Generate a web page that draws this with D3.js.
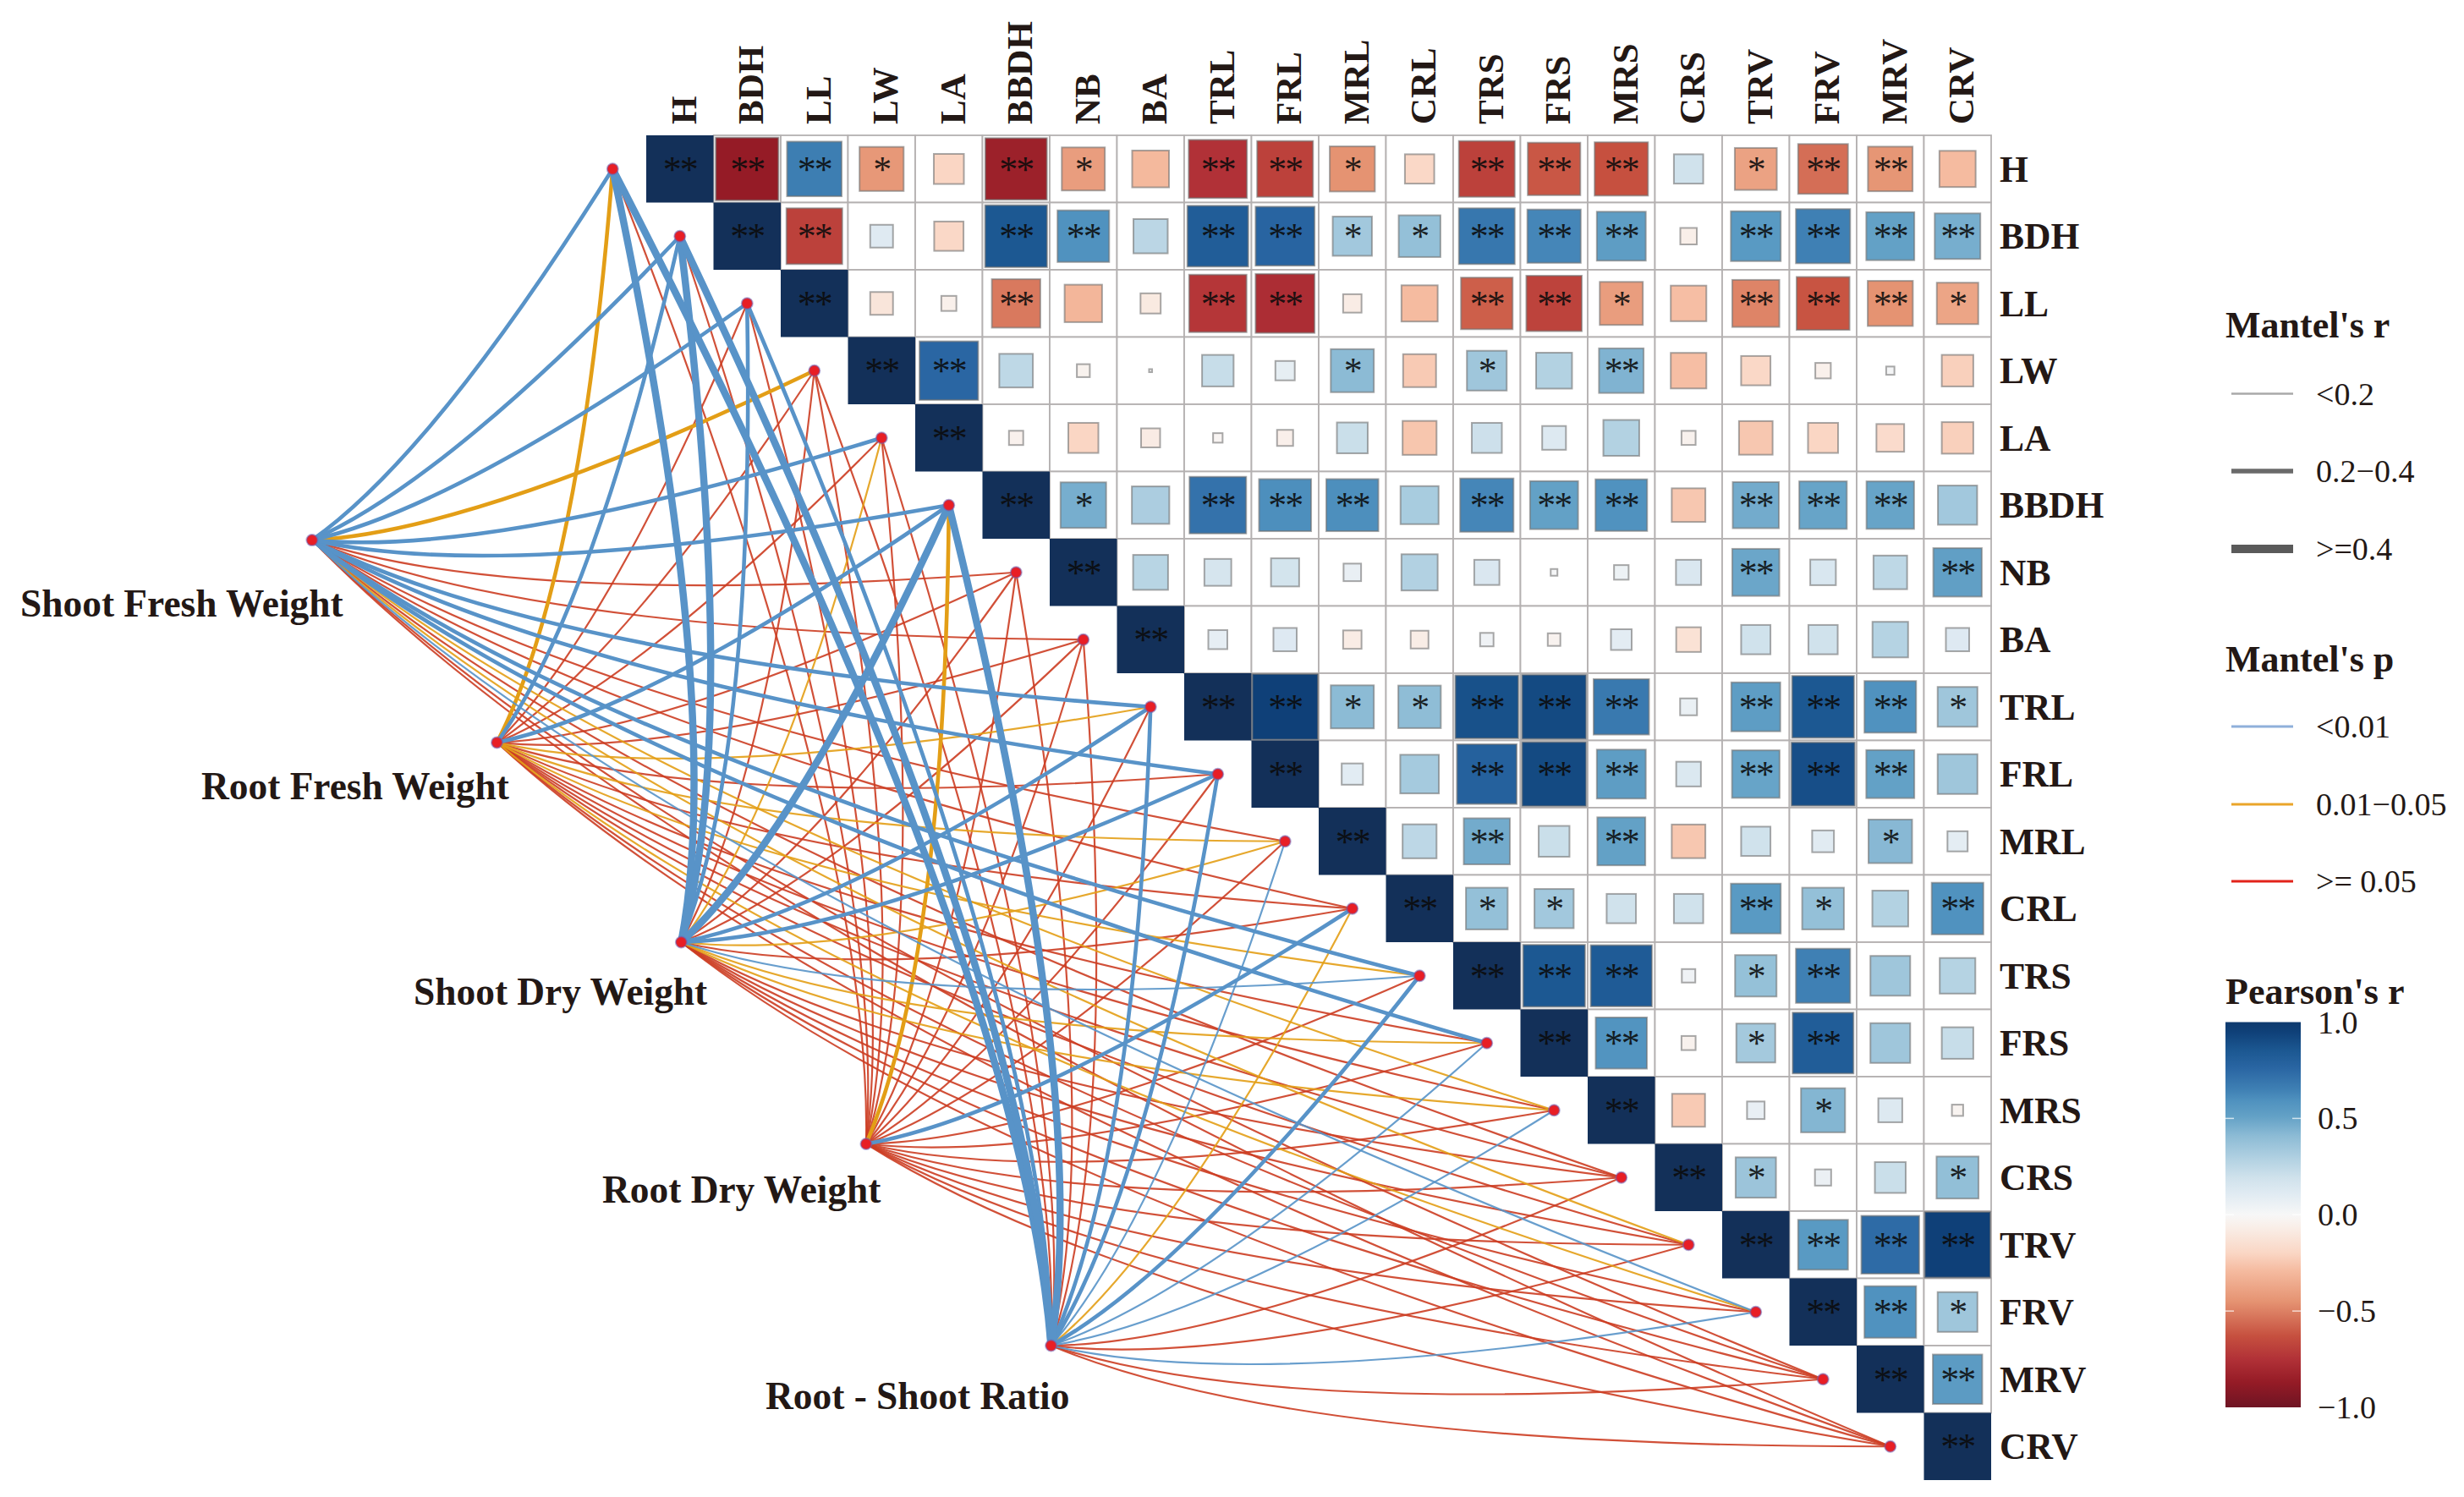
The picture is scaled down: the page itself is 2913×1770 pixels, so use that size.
<!DOCTYPE html>
<html>
<head>
<meta charset="utf-8">
<script src="https://cdn.jsdelivr.net/npm/d3@7"></script>
<style>
html,body{margin:0;padding:0;background:#fff;}
svg{display:block;}
text{font-family:"Liberation Serif",serif;fill:#231815;}
</style>
</head>
<body>
<svg id="chart" width="2913" height="1770"></svg>
<script>
const variables = ["H","BDH","LL","LW","LA","BBDH","NB","BA","TRL","FRL","MRL","CRL","TRS","FRS","MRS","CRS","TRV","FRV","MRV","CRV"];

// Pearson's r, upper triangle: each row starts at the cell right of the diagonal
const r_H    = [-.87,.66,-.43,-.20,-.84,-.41,-.30,-.75,-.69,-.45,-.19,-.69,-.61,-.63,.19,-.39,-.55,-.44,-.29];
const r_BDH  = [-.69,.115,-.19,.85,.59,.26,.82,.77,.34,.385,.69,.63,.53,-.06,.55,.65,.51,.46];
const r_LL   = [-.115,-.05,-.52,-.31,-.09,-.73,-.77,-.075,-.29,-.59,-.68,-.41,-.28,-.49,-.62,-.45,-.38];
const r_LW   = [.76,.25,-.037,.002,.22,.083,.41,-.24,.35,.285,.44,-.28,-.19,-.053,.015,-.22];
const r_LA   = [-.045,-.2,-.08,-.02,-.057,.21,-.255,.2,.125,.285,-.044,-.25,-.2,-.17,-.22];
const r_BBDH = [.46,.31,.71,.6,.6,.32,.63,.51,.59,-.25,.47,.5,.5,.34];
const r_NB   = [.27,.16,.175,.068,.29,.14,.01,.047,.14,.49,.145,.25,.52];
const r_BA   = [.08,.12,-.075,-.07,.04,-.035,.095,-.135,.19,.19,.28,.12];
const r_TRL  = [.95,.41,.4,.88,.91,.68,.063,.53,.85,.59,.35];
const r_FRL  = [.1,.33,.79,.91,.53,.135,.5,.89,.51,.35];
const r_MRL  = [.255,.47,.21,.51,-.25,.19,.105,.42,.09];
const r_CRL  = [.385,.34,.19,.19,.55,.385,.285,.59];
const r_TRS  = [.85,.83,.04,.38,.65,.35,.28];
const r_FRS  = [.58,-.044,.335,.82,.35,.22];
const r_MRS  = [-.24,.068,.43,.127,-.028];
const r_CRS  = [.36,.058,.21,.39];
const r_TRV  = [.55,.74,.95];
const r_FRV  = [.59,.35];
const r_MRV  = [.54];
const corrRows = [r_H,r_BDH,r_LL,r_LW,r_LA,r_BBDH,r_NB,r_BA,r_TRL,r_FRL,r_MRL,r_CRL,r_TRS,r_FRS,r_MRS,r_CRS,r_TRV,r_FRV,r_MRV,[]];

// Significance stars for the same cells
const s_H    = [2,2,1,0,2,1,0,2,2,1,0,2,2,2,0,1,2,2,0];
const s_BDH  = [2,0,0,2,2,0,2,2,1,1,2,2,2,0,2,2,2,2];
const s_LL   = [0,0,2,0,0,2,2,0,0,2,2,1,0,2,2,2,1];
const s_LW   = [2,0,0,0,0,0,1,0,1,0,2,0,0,0,0,0];
const s_LA   = [0,0,0,0,0,0,0,0,0,0,0,0,0,0,0];
const s_BBDH = [1,0,2,2,2,0,2,2,2,0,2,2,2,0];
const s_NB   = [0,0,0,0,0,0,0,0,0,2,0,0,2];
const s_BA   = [0,0,0,0,0,0,0,0,0,0,0,0];
const s_TRL  = [2,1,1,2,2,2,0,2,2,2,1];
const s_FRL  = [0,0,2,2,2,0,2,2,2,0];
const s_MRL  = [0,2,0,2,0,0,0,1,0];
const s_CRL  = [1,1,0,0,2,1,0,2];
const s_TRS  = [2,2,0,1,2,0,0];
const s_FRS  = [2,0,1,2,0,0];
const s_MRS  = [0,0,1,0,0];
const s_CRS  = [1,0,0,1];
const s_TRV  = [2,2,2];
const s_FRV  = [2,1];
const s_MRV  = [2];
const starRows = [s_H,s_BDH,s_LL,s_LW,s_LA,s_BBDH,s_NB,s_BA,s_TRL,s_FRL,s_MRL,s_CRL,s_TRS,s_FRS,s_MRS,s_CRS,s_TRV,s_FRV,s_MRV,[]];

// Mantel classes per source, in the order of `variables`
// p class: 0 <0.01, 1 0.01-0.05, 2 >=0.05 ; r class: 0 <0.2, 1 0.2-0.4, 2 >=0.4
const sources = ["Shoot Fresh Weight","Root Fresh Weight","Shoot Dry Weight","Root Dry Weight","Root - Shoot Ratio"];
const pSFW = [0,0,0,1,0,0,2,2,0,0,2,2,0,0,1,2,1,0,2,2];
const rSFW = [1,1,1,1,1,1,0,0,1,1,0,0,1,1,0,0,0,0,0,0];
const pRFW = [1,0,2,2,2,0,2,2,1,2,1,2,1,2,2,2,2,1,2,2];
const rRFW = [1,1,0,0,0,1,0,0,0,0,0,0,0,0,0,0,0,0,0,0];
const pSDW = [0,0,0,2,1,0,2,2,0,0,1,2,0,1,1,2,2,2,2,2];
const rSDW = [2,2,1,0,0,2,0,0,1,1,0,0,0,0,0,0,0,0,0,0];
const pRDW = [2,2,2,2,2,1,2,2,2,2,2,0,2,2,2,2,2,2,2,2];
const rRDW = [0,0,0,0,0,1,0,0,0,0,0,1,0,0,0,0,0,0,0,0];
const pRSR = [0,0,0,2,2,0,2,2,0,0,0,1,0,0,0,2,2,0,2,2];
const rRSR = [2,2,1,0,0,2,0,0,1,1,0,0,1,0,0,0,0,0,0,0];
const pClasses = [pSFW,pRFW,pSDW,pRDW,pRSR];
const rClasses = [rSFW,rRFW,rSDW,rRDW,rRSR];

// Source anchors expressed in the matrix's own coordinates (column, row units)
const sourceCol = [-4.97,-2.22,0.52,3.27,6.02];
const sourceRow = [6.02,9.03,12.0,15.0,18.0];

const mantelRLabels = ["<0.2","0.2\u22120.4",">=0.4"];
const mantelPLabels = ["<0.01","0.01\u22120.05",">= 0.05"];
const colorTicks = [1,0.5,0,-0.5,-1];

const colorStops = [-1,-.87,-.75,-.63,-.45,-.29,-.2,-.06,0,.115,.19,.28,.41,.51,.59,.65,.76,.85,.95,1];
const colorRange = ["#6E1423","#951B26","#B13137","#C6503F","#E59372","#F5BBA0","#FAD6C4","#F9EFE9","#F7F7F7","#DFEAF2","#D0E2EC","#B5D3E3","#8CBBD5","#63A1C6","#5092BF","#3F80B4","#2A66A3","#1C5892","#0F4078","#133059"];

const svg = d3.select("#chart");
const GRID_L = 764, GRID_T = 160, CELL = 79.5;
const x = d3.scaleBand().domain(variables).range([GRID_L, GRID_L + CELL*20]);
const y = d3.scaleBand().domain(variables).range([GRID_T, GRID_T + CELL*20]);
const colX = d3.scaleLinear().domain([0,20]).range([GRID_L, GRID_L + CELL*20]);
const rowY = d3.scaleLinear().domain([0,20]).range([GRID_T, GRID_T + CELL*20]);
const color = d3.scaleLinear().domain(colorStops).range(colorRange);
const side = d3.scaleSqrt().domain([0,1]).range([0, CELL]);

const cells = [];
variables.forEach((rv,i)=>{
  cells.push({row:rv,col:rv,r:1,s:2,diag:true});
  corrRows[i].forEach((val,k)=>cells.push({row:rv,col:variables[i+1+k],r:val,s:starRows[i][k],diag:false}));
});

// grid
const gGrid = svg.append("g");
gGrid.selectAll("rect").data(cells.filter(d=>!d.diag)).join("rect")
  .attr("x",d=>x(d.col)).attr("y",d=>y(d.row))
  .attr("width",x.bandwidth()).attr("height",y.bandwidth())
  .attr("fill","#fff").attr("stroke","#b4b1b1").attr("stroke-width",1.8);

// links
const widths = [2.2,4.6,8.5];
const linkColors = ["#5893C8","#E39E16","#CC3D22"];
const links = [];
sources.forEach((s,si)=>variables.forEach((v,vi)=>links.push({
  sx:colX(sourceCol[si]), sy:rowY(sourceRow[si]),
  tx:x(v)+CELL/2-CELL, ty:y(v)+CELL/2,
  p:pClasses[si][vi], w:rClasses[si][vi]
})));
links.sort((a,b)=>(b.p-a.p)||(a.w-b.w));
// The curve's bulge sits nearer the source than the target
const CURV = 0.085, SKEW = 0.3;
function curve(d){
  const dx=d.tx-d.sx, dy=d.ty-d.sy;
  const mx=d.sx+dx*SKEW, my=d.sy+dy*SKEW;
  const p=d3.path();
  p.moveTo(d.sx,d.sy);
  p.quadraticCurveTo(mx-dy*CURV,my+dx*CURV,d.tx,d.ty);
  return p.toString();
}
svg.append("g").attr("fill","none").selectAll("path").data(links).join("path")
  .attr("d",curve)
  .attr("stroke",d=>linkColors[d.p])
  .attr("stroke-width",d=>widths[d.w])
  .attr("stroke-opacity",d=>d.w===0?0.9:1);

// squares
const gCells = svg.append("g");
gCells.selectAll("rect").data(cells).join("rect")
  .attr("x",d=>x(d.col)+(CELL-(d.diag?CELL:side(Math.abs(d.r))))/2)
  .attr("y",d=>y(d.row)+(CELL-(d.diag?CELL:side(Math.abs(d.r))))/2)
  .attr("width",d=>d.diag?CELL:side(Math.abs(d.r)))
  .attr("height",d=>d.diag?CELL:side(Math.abs(d.r)))
  .attr("fill",d=>color(d.r))
  .attr("stroke",d=>d.diag?"none":"#6f6f6f")
  .attr("stroke-opacity",.6)
  .attr("stroke-width",2);

// stars
gCells.selectAll("text").data(cells.filter(d=>d.s>0)).join("text")
  .attr("x",d=>x(d.col)+CELL/2)
  .attr("y",d=>y(d.row)+CELL/2+15)
  .attr("text-anchor","middle")
  .attr("font-size",44)
  .attr("letter-spacing",-2)
  .style("fill","#0b0b0b")
  .attr("fill-opacity",.9)
  .text(d=>d.s===2?"**":"*");

// endpoints
const nodes = variables.map(v=>({x:x(v)+CELL/2-CELL,y:y(v)+CELL/2}))
  .concat(sources.map((s,i)=>({x:colX(sourceCol[i]),y:rowY(sourceRow[i])})));
svg.append("g").selectAll("circle").data(nodes).join("circle")
  .attr("cx",d=>d.x).attr("cy",d=>d.y).attr("r",6.5)
  .attr("fill","#E81E25").attr("stroke","#6C62B5").attr("stroke-opacity",.5).attr("stroke-width",2);

// axis labels
const axisTop = d3.axisTop(x).tickSize(0).tickPadding(0);
const gTop = svg.append("g").attr("transform",`translate(0,147)`).call(axisTop);
gTop.select(".domain").remove();
gTop.selectAll("text")
  .attr("transform",null)
  .attr("x",0).attr("y",0).attr("dy",0)
  .attr("text-anchor","start")
  .attr("font-size",43).attr("font-weight","bold")
  .attr("font-family","Liberation Serif")
  .attr("transform","translate(19,0) rotate(-90)");

const axisRight = d3.axisRight(y).tickSize(0).tickPadding(0);
const gRight = svg.append("g").attr("transform",`translate(2364,0)`).call(axisRight);
gRight.select(".domain").remove();
gRight.selectAll("text")
  .attr("font-size",43.5).attr("font-weight","bold").attr("font-family","Liberation Serif").attr("dy","0.34em");

// source labels
const labelX = [24,238,489,712,905];
const labelY = [729,945,1188,1422,1666];
svg.append("g").selectAll("text").data(sources).join("text")
  .attr("x",(d,i)=>labelX[i]).attr("y",(d,i)=>labelY[i])
  .attr("font-size",45.4).attr("font-weight","bold").text(d=>d);

// legends
const LEG_X = 2631, LINE_X0 = 2638, LINE_X1 = 2711, TXT_X = 2738;
const leg = svg.append("g");
function title(t,yy){leg.append("text").attr("x",LEG_X).attr("y",yy).attr("font-size",44).attr("font-weight","bold").text(t);}
title("Mantel's r",399);
const rLegY=[465.5,557,649], rLegW=[2.5,5.5,10], rLegC=["#a9a9a9","#6a6a6a","#5a5a5a"];
mantelRLabels.forEach((t,i)=>{
  leg.append("line").attr("x1",LINE_X0).attr("x2",LINE_X1).attr("y1",rLegY[i]).attr("y2",rLegY[i]).attr("stroke",rLegC[i]).attr("stroke-width",rLegW[i]);
  leg.append("text").attr("x",TXT_X).attr("y",rLegY[i]+13).attr("font-size",38).text(t);
});
title("Mantel's p",794);
const pLegY=[859,951,1042], pLegC=["#8FB0DA","#EAA52A","#E2231A"];
mantelPLabels.forEach((t,i)=>{
  leg.append("line").attr("x1",LINE_X0).attr("x2",LINE_X1).attr("y1",pLegY[i]).attr("y2",pLegY[i]).attr("stroke",pLegC[i]).attr("stroke-width",3);
  leg.append("text").attr("x",TXT_X).attr("y",pLegY[i]+13).attr("font-size",38).text(t);
});
title("Pearson's r",1187);

// colour bar
const barY = d3.scaleLinear().domain([1,-1]).range([1208.5,1664]);
const defs = svg.append("defs");
const grad = defs.append("linearGradient").attr("id","pearson").attr("x1",0).attr("x2",0).attr("y1",0).attr("y2",1);
colorStops.slice().reverse().forEach((v,i)=>{
  grad.append("stop").attr("offset",(1-v)/2).attr("stop-color",v===1?"#0E3A6E":color(v));
});
leg.append("rect").attr("x",LEG_X).attr("y",barY(1)).attr("width",89).attr("height",barY(-1)-barY(1)).attr("fill","url(#pearson)");
colorTicks.forEach(t=>{
  if(Math.abs(t)<1){
    leg.append("line").attr("x1",LEG_X).attr("x2",LEG_X+10).attr("y1",barY(t)).attr("y2",barY(t)).attr("stroke","#fff").attr("stroke-opacity",.7).attr("stroke-width",1.5);
    leg.append("line").attr("x1",LEG_X+79).attr("x2",LEG_X+89).attr("y1",barY(t)).attr("y2",barY(t)).attr("stroke","#fff").attr("stroke-opacity",.7).attr("stroke-width",1.5);
  }
  leg.append("text").attr("x",2740).attr("y",barY(t)+13).attr("font-size",38)
    .text(d3.format(".1f")(t).replace("-","\u2212"));
});
</script>
</body>
</html>
